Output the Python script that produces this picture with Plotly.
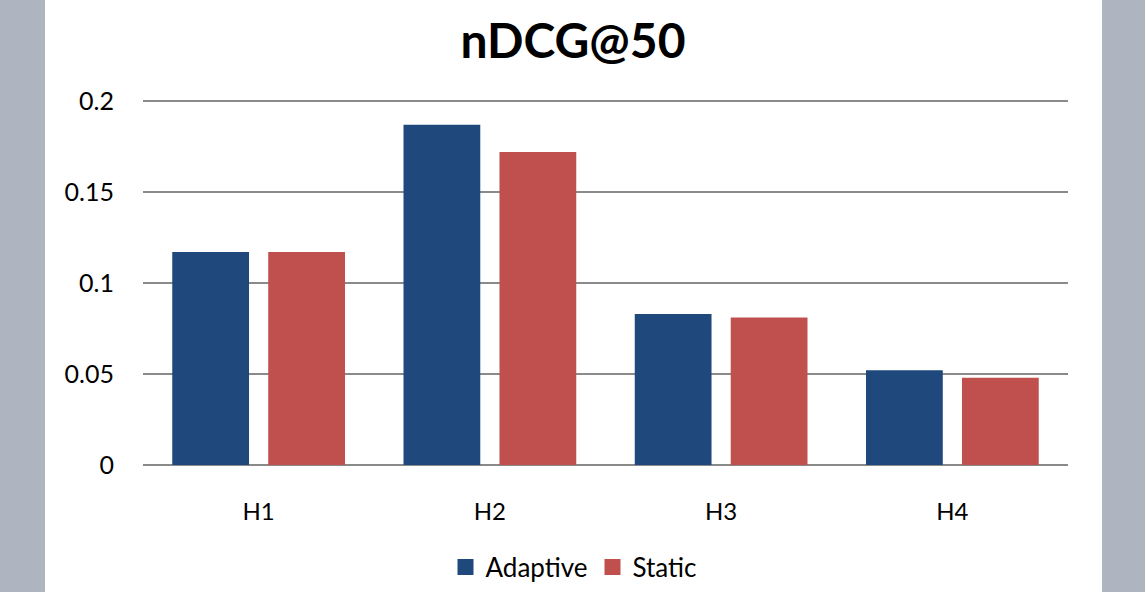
import plotly.graph_objects as go

categories = ["H1", "H2", "H3", "H4"]
adaptive = [0.117, 0.187, 0.083, 0.052]
static = [0.117, 0.172, 0.081, 0.048]
y_ticks = [0, 0.05, 0.1, 0.15, 0.2]
y_tick_labels = ["0", "0.05", "0.1", "0.15", "0.2"]

BLUE = "#1F497D"
RED = "#C0504D"
FONT = "Lato"

W, H = 1145, 592
L, R, T, B = 143, 77, 97, 127
PW = W - L - R
PH = H - T - B
PX_PER_UNIT = (465 - 101) / 0.2
Y_TOP = PH / PX_PER_UNIT

fig = go.Figure()
fig.add_trace(go.Bar(x=categories, y=adaptive, name="Adaptive",
                     marker=dict(color=BLUE, line=dict(width=0)), showlegend=False))
fig.add_trace(go.Bar(x=categories, y=static, name="Static",
                     marker=dict(color=RED, line=dict(width=0)), showlegend=False))
# legend entries
fig.add_trace(go.Scatter(x=[None], y=[None], mode="markers", name="Adaptive",
                         marker=dict(symbol="square", size=19, color=BLUE)))
fig.add_trace(go.Scatter(x=[None], y=[None], mode="markers", name="Static",
                         marker=dict(symbol="square", size=19, color=RED)))

def px2paper(px):
    return (px - L) / PW

shapes = [
    dict(type="rect", xref="paper", yref="paper", x0=px2paper(0), x1=px2paper(45),
         y0=-2, y1=2, fillcolor="#AEB5C0", line=dict(width=0), layer="below"),
    dict(type="rect", xref="paper", yref="paper", x0=px2paper(1102), x1=px2paper(W + 5),
         y0=-2, y1=2, fillcolor="#AEB5C0", line=dict(width=0), layer="below"),
]

fig.update_layout(
    width=W, height=H,
    margin=dict(l=L, r=R, t=T, b=B),
    paper_bgcolor="white", plot_bgcolor="white",
    font=dict(family=FONT, color="#000000", size=24),
    title=dict(text="<b>nDCG@50</b>", x=573 / W, xanchor="center", xref="container",
               y=1 - 41 / H, yanchor="middle", yref="container",
               font=dict(family=FONT, size=48, color="#000000")),
    barmode="group", bargap=0.17, bargroupgap=0.2,
    showlegend=True,
    legend=dict(orientation="h", x=574 / W, xanchor="center", xref="container",
                y=1 - 567 / H, yanchor="middle", yref="container",
                font=dict(family=FONT, size=26), itemsizing="trace", traceorder="normal"),
    shapes=shapes,
)
fig.update_xaxes(showgrid=False, ticks="", showline=False, zeroline=False,
                 tickfont=dict(family=FONT, size=24), ticklabelstandoff=30)
fig.update_yaxes(range=[0, Y_TOP], tickvals=y_ticks, ticktext=y_tick_labels,
                 showgrid=True, gridcolor="#8A8A8A", gridwidth=2,
                 zeroline=True, zerolinecolor="#8A8A8A", zerolinewidth=2,
                 showline=False, ticks="", ticklabelstandoff=28,
                 tickfont=dict(family=FONT, size=25))

fig.write_html("out.html", config={"displayModeBar": False},
               post_script="document.body.style.margin='0';")
